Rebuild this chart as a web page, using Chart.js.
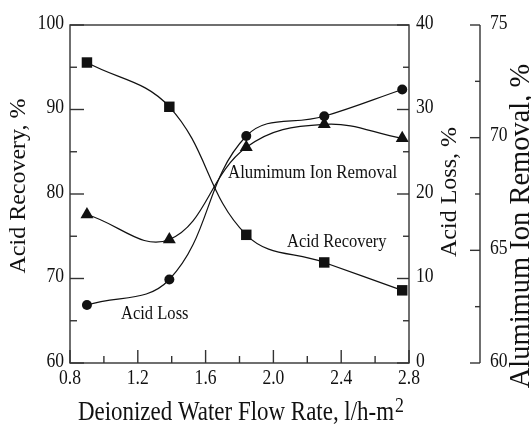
<!DOCTYPE html>
<html>
<head>
<meta charset="utf-8">
<script src="https://cdn.jsdelivr.net/npm/chart.js@4/dist/chart.umd.min.js"></script>
<style>
  html, body { margin: 0; padding: 0; background: #fff; }
  #chart { display: block; }
</style>
</head>
<body>
<canvas id="chart" width="531" height="425"></canvas>
<script>
// flow rate, l/h-m2
const flowRates = [0.9, 1.386, 1.84, 2.3, 2.76];
const acidRecovery = [95.56, 90.32, 75.17, 71.9, 68.6];
const acidLoss = [6.86, 9.88, 26.86, 29.2, 32.37];
const alRemoval = [66.59, 65.48, 69.57, 70.59, 69.97];

const xTicks = [0.8, 1.2, 1.6, 2.0, 2.4, 2.8];
const recoveryTicks = [60, 70, 80, 90, 100];
const lossTicks = [0, 10, 20, 30, 40];
const alTicks = [60, 65, 70, 75];

const INK = '#111';
const SERIF = '"Liberation Serif", "Times New Roman", serif';

function points(ys) {
  return flowRates.map((x, i) => ({ x, y: ys[i] }));
}

function midpoints(ticks) {
  const out = [];
  for (let i = 0; i < ticks.length - 1; i += 1) out.push((ticks[i] + ticks[i + 1]) / 2);
  return out;
}

function text(ctx, str, x, y, size, opts = {}) {
  ctx.save();
  ctx.translate(x, y);
  if (opts.rotate) ctx.rotate(-Math.PI / 2);
  ctx.scale(opts.sx ?? 1, 1);
  ctx.font = `${size}px ${SERIF}`;
  ctx.fillStyle = INK;
  ctx.textAlign = opts.align ?? 'center';
  ctx.textBaseline = opts.baseline ?? 'middle';
  ctx.fillText(str, 0, 0);
  ctx.restore();
}

function line(ctx, x1, y1, x2, y2) {
  ctx.beginPath();
  ctx.moveTo(x1, y1);
  ctx.lineTo(x2, y2);
  ctx.stroke();
}

const AL_AXIS_X = 480;
const TICK_SIZE = 22;
const TICK_SX = 0.8;

const axesPlugin = {
  id: 'axes',
  afterDraw(chart) {
    const { ctx, chartArea: a, scales } = chart;
    const { x, y, y1, y2 } = scales;

    ctx.save();
    ctx.strokeStyle = '#333';
    ctx.lineWidth = 1.4;
    ctx.strokeRect(a.left, a.top, a.right - a.left, a.bottom - a.top);
    line(ctx, AL_AXIS_X, y2.getPixelForValue(75), AL_AXIS_X, y2.getPixelForValue(60));

    // x ticks point up into the plot
    xTicks.forEach((v) => {
      const px = x.getPixelForValue(v);
      line(ctx, px, a.bottom, px, a.bottom - 13);
      text(ctx, v.toFixed(1), px, a.bottom + 15, TICK_SIZE, { sx: TICK_SX });
    });
    midpoints(xTicks).forEach((v) => {
      const px = x.getPixelForValue(v);
      line(ctx, px, a.bottom, px, a.bottom - 7);
    });

    recoveryTicks.forEach((v) => {
      const py = y.getPixelForValue(v);
      line(ctx, a.left, py, a.left + 14, py);
      text(ctx, String(v), a.left - 6, py - 2, TICK_SIZE, { sx: TICK_SX, align: 'right' });
    });
    midpoints(recoveryTicks).forEach((v) => {
      const py = y.getPixelForValue(v);
      line(ctx, a.left, py, a.left + 7, py);
    });

    lossTicks.forEach((v) => {
      const py = y1.getPixelForValue(v);
      line(ctx, a.right, py, a.right - 12, py);
      text(ctx, String(v), a.right + 7, py - 2, TICK_SIZE, { sx: TICK_SX, align: 'left' });
    });
    midpoints(lossTicks).forEach((v) => {
      const py = y1.getPixelForValue(v);
      line(ctx, a.right, py, a.right - 6, py);
    });

    alTicks.forEach((v) => {
      const py = y2.getPixelForValue(v);
      line(ctx, AL_AXIS_X, py, AL_AXIS_X - 10, py);
      text(ctx, String(v), AL_AXIS_X + 10, py - 2, TICK_SIZE, { sx: TICK_SX, align: 'left' });
    });
    midpoints(alTicks).forEach((v) => {
      const py = y2.getPixelForValue(v);
      line(ctx, AL_AXIS_X, py, AL_AXIS_X - 5, py);
    });

    // axis titles
    text(ctx, 'Acid Recovery, %', 19, 186, 24, { rotate: true });
    text(ctx, 'Acid Loss, %', 450, 192, 24, { rotate: true });
    text(ctx, 'Alumimum Ion Removal, %', 522, 226, 28.5, { rotate: true });

    ctx.save();
    ctx.font = `27px ${SERIF}`;
    const main = 'Deionized Water Flow Rate, l/h-m';
    const w = ctx.measureText(main).width * 0.85;
    ctx.restore();
    const start = 241 - (w + 10) / 2;
    text(ctx, main, start, 420, 27, { sx: 0.85, align: 'left', baseline: 'alphabetic' });
    text(ctx, '2', start + w + 1, 412, 21, { sx: 0.85, align: 'left', baseline: 'alphabetic' });

    // curve labels
    text(ctx, 'Alumimum Ion Removal', 228, 178, 19, { sx: 0.885, align: 'left', baseline: 'alphabetic' });
    text(ctx, 'Acid Recovery', 287, 247, 19, { sx: 0.87, align: 'left', baseline: 'alphabetic' });
    text(ctx, 'Acid Loss', 121, 319, 19, { sx: 0.87, align: 'left', baseline: 'alphabetic' });
    ctx.restore();
  },
};

const seriesStyle = {
  borderColor: INK,
  backgroundColor: INK,
  pointBackgroundColor: INK,
  pointBorderColor: INK,
  borderWidth: 1.2,
  pointBorderWidth: 0,
  tension: 0.4,
  fill: false,
};

new Chart(document.getElementById('chart'), {
  type: 'line',
  data: {
    datasets: [
      { ...seriesStyle, label: 'Acid Recovery', data: points(acidRecovery), yAxisID: 'y', pointStyle: 'rect', pointRadius: 7.4 },
      { ...seriesStyle, label: 'Acid Loss', data: points(acidLoss), yAxisID: 'y1', pointStyle: 'circle', pointRadius: 5 },
      { ...seriesStyle, label: 'Alumimum Ion Removal', data: points(alRemoval), yAxisID: 'y2', pointStyle: 'triangle', pointRadius: 7.5 },
    ],
  },
  options: {
    responsive: false,
    animation: false,
    devicePixelRatio: 1,
    layout: { padding: { left: 70, right: 122, top: 25, bottom: 62 } },
    plugins: { legend: { display: false }, tooltip: { enabled: false } },
    scales: {
      x: { type: 'linear', min: 0.8, max: 2.8, display: false },
      y: { min: 60, max: 100, display: false },
      y1: { min: 0, max: 40, display: false },
      y2: { min: 60, max: 75, display: false },
    },
  },
  plugins: [axesPlugin],
});
</script>
</body>
</html>
